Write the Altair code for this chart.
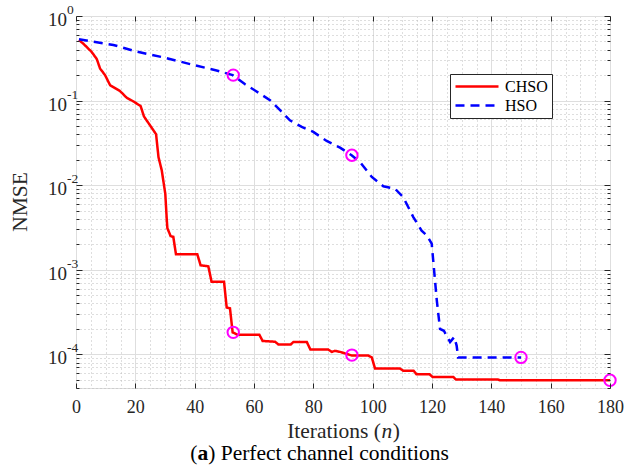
import altair as alt
import pandas as pd

# ---------------- data ----------------
chso_x = [1, 2.5, 5.3, 7, 8.1, 9.8, 11.5, 14.8, 17.1, 19.3, 21.8, 22.9, 27, 27.8, 28.9, 30.1,
          30.6, 30.8, 31.9, 32.8, 33.7, 40.9, 42, 44.6, 45.7, 49.9, 50.8, 51.9, 52.8, 54.4,
          61.8, 62.9, 67.1, 68.2, 72.4, 73.3, 77.8, 79, 85, 86.2, 87.3, 89, 92.9, 98.5,
          99.7, 100.8, 109.2, 110.3, 113.8, 114.8, 119.2, 120.2, 127.2, 128.1, 142.3, 142.9, 180]
chso_y = [0.52, 0.47, 0.375, 0.31, 0.24, 0.20, 0.152, 0.13, 0.108, 0.098, 0.086, 0.065, 0.040,
          0.0215, 0.015, 0.0079, 0.0039, 0.0031, 0.0025, 0.00245, 0.00152, 0.00152, 0.00113,
          0.0011, 0.00072, 0.00072, 0.000357, 0.00035, 0.000182, 0.000171, 0.000171, 0.000144,
          0.000141, 0.000131, 0.000131, 0.00014, 0.00014, 0.000114, 0.000114, 0.000107, 0.00011,
          0.000107, 0.000097, 0.000097, 0.000092, 0.000068, 0.000068, 0.000064, 0.000064,
          0.000058, 0.000058, 0.000054, 0.000054, 0.0000503, 0.0000503, 0.0000494, 0.0000493]

hso_x = [1, 12.6, 20.4, 30.5, 39.5, 47.4, 52.8, 57, 61.5, 65.4, 68.8, 72.1, 76.1, 80, 84.5, 89,
         92.9, 95.7, 99.7, 103.6, 107.5, 110.3, 113.7, 116.5, 118.2, 119.9, 120.4, 121.6, 122.7,
         124, 126.1, 127.5, 128.3, 128.8, 150]
hso_y = [0.53, 0.455, 0.38, 0.318, 0.264, 0.227, 0.20, 0.156, 0.124, 0.101, 0.077, 0.0585,
         0.0488, 0.0426, 0.0333, 0.0278, 0.0226, 0.0188, 0.0125, 0.0097, 0.0091, 0.0072, 0.0042,
         0.0029, 0.00256, 0.00204, 0.0013, 0.00044, 0.0002, 0.00019, 0.00014, 0.00016, 0.000127,
         0.000092, 0.000092]

marker_x = [53, 93, 150, 53, 93, 180]
marker_y = [0.20, 0.0226, 0.000092, 0.000182, 0.000098, 0.0000493]

series_names = ["CHSO", "HSO"]
x_ticks = [0, 20, 40, 60, 80, 100, 120, 140, 160, 180]
x_minor = [v for v in range(0, 181, 5) if v % 20 != 0]
decades = [1, 0.1, 0.01, 0.001, 0.0001]
decade_exp = ["0", "-1", "-2", "-3", "-4"]
y_minor = [m * 10.0 ** e for e in range(-5, 0) for m in range(2, 10) if 4e-5 <= m * 10.0 ** e < 1]

# ---------------- tables ----------------
line_df = pd.concat([
    pd.DataFrame({"x": chso_x, "y": chso_y, "series": "CHSO", "order": range(len(chso_x))}),
    pd.DataFrame({"x": hso_x, "y": hso_y, "series": "HSO", "order": range(len(hso_x))}),
])
mk_df = pd.DataFrame({"x": marker_x, "y": marker_y})
ylab_df = pd.DataFrame({"y": decades, "exp": decade_exp})
one = pd.DataFrame({"k": [0]})

FONT = "Liberation Serif"
TXT = "#262626"
W, H = 534, 372
xs = alt.Scale(domain=[0, 180], nice=False, zero=False)
ys = alt.Scale(type="log", domain=[4e-5, 1], nice=False)

def blank_axis(**kw):
    base = dict(labels=False, ticks=False, domain=False, grid=False, title=None)
    base.update(kw)
    return alt.Axis(**base)

legend = alt.Legend(title=None, orient="none", legendX=374, legendY=58,
                    symbolType="stroke", symbolSize=1850, symbolStrokeWidth=2.5,
                    labelFont=FONT, labelFontSize=16, labelColor="black",
                    strokeColor="#262626", fillColor="white", padding=4,
                    clipHeight=17, rowPadding=2, labelOffset=5, symbolOffset=0)

lines = alt.Chart(line_df).mark_line(strokeWidth=2.5, clip=True).encode(
    x=alt.X("x:Q", scale=xs, axis=blank_axis(orient="bottom", values=x_minor, grid=True, gridDash=[1, 3],
                                             gridColor="#bdbdbd", gridWidth=1)),
    y=alt.Y("y:Q", scale=ys, axis=blank_axis(orient="left", values=y_minor, grid=True, gridDash=[1, 3],
                                             gridColor="#bdbdbd", gridWidth=1)),
    color=alt.Color("series:N", scale=alt.Scale(domain=series_names, range=["#ff0000", "#0000ff"]),
                    legend=legend),
    strokeDash=alt.StrokeDash("series:N", scale=alt.Scale(domain=series_names, range=[[1, 0], [9, 6]]),
                              legend=legend),
    order="order:Q",
)

markers = alt.Chart(mk_df).mark_point(shape="circle", filled=False, color="#ff00ff", size=130,
                                      strokeWidth=2, opacity=1).encode(
    x=alt.X("x:Q", scale=xs, axis=alt.Axis(orient="bottom", values=x_ticks, grid=True, gridColor="#dedede",
                                           gridWidth=1, labels=True, ticks=False, tickSize=0, domain=False,
                                           title=None, labelFont=FONT, labelFontSize=18, labelColor=TXT,
                                           labelBaseline="middle", labelPadding=19, labelFlush=False,
                                           labelOverlap=False)),
    y=alt.Y("y:Q", scale=ys, axis=blank_axis(orient="left", values=decades, grid=True, gridColor="#dedede",
                                             gridWidth=1)),
)

def tick_layer(xaxis, yaxis):
    return alt.Chart(mk_df).mark_point(opacity=0).encode(
        x=alt.X("x:Q", scale=xs, axis=xaxis),
        y=alt.Y("y:Q", scale=ys, axis=yaxis),
    )

tk = dict(labels=False, domain=False, grid=False, title=None, ticks=True, tickColor=TXT, tickWidth=1, zindex=2)
t1 = tick_layer(alt.Axis(orient="bottom", values=x_ticks, tickSize=5, offset=-5, **tk),
                alt.Axis(orient="left", values=decades, tickSize=6, offset=-6, **tk))
t2 = tick_layer(alt.Axis(orient="top", values=x_ticks, tickSize=5, offset=-5, **tk),
                alt.Axis(orient="right", values=decades, tickSize=6, offset=-6, **tk))
t3 = tick_layer(None, alt.Axis(orient="left", values=y_minor, tickSize=3, offset=-3, **tk))
t4 = tick_layer(None, alt.Axis(orient="right", values=y_minor, tickSize=3, offset=-3, **tk))

ten = alt.Chart(ylab_df).mark_text(text="10", align="right", baseline="middle", font=FONT,
                                   fontSize=19, color=TXT, dy=4).encode(
    x=alt.value(-9), y=alt.Y("y:Q", scale=ys, axis=None))
expo = alt.Chart(ylab_df).mark_text(align="left", baseline="middle", font=FONT,
                                    fontSize=13.5, color=TXT, dy=-6).encode(
    x=alt.value(-9), y=alt.Y("y:Q", scale=ys, axis=None), text="exp:N")

def txt(s, x, y, size, **kw):
    return alt.Chart(one).mark_text(text=s, align="left", baseline="middle", font=FONT,
                                    fontSize=size, color=kw.pop("color", TXT), **kw).encode(
        x=alt.value(x), y=alt.value(y))

# x-axis title "Iterations (n)" with italic n
FT = 21.5
w1, w2, w3 = 4.36 * FT, 0.5 * FT, 0.333 * FT
x0 = W / 2 - (w1 + w2 + w3) / 2
xt = [txt("Iterations (", x0, 416, FT), txt("n", x0 + w1 + 0.5, 416, FT, fontStyle="italic"),
      txt(")", x0 + w1 + w2 + 1, 416, FT)]

# y title
ytitle = alt.Chart(one).mark_text(text="NMSE", angle=270, align="center", baseline="middle",
                                  font=FONT, fontSize=FT, color=TXT).encode(
    x=alt.value(-55), y=alt.value(H / 2))

# caption "(a) Perfect channel conditions"
FC = 21.5
c1, c2, c3 = 0.333 * FC, 0.5 * FC, 11.19 * FC
cx0 = (639 / 2 - 76) - (c1 + c2 + c3) / 2
cap = [txt("(", cx0, 438, FC, color="black"),
       txt("a", cx0 + c1, 438, FC, color="black", fontWeight="bold"),
       txt(") Perfect channel conditions", cx0 + c1 + c2, 438, FC, color="black")]

chart = alt.layer(lines, markers, t1, t2, t3, t4, ten, expo, ytitle, *xt, *cap).resolve_scale(
    x="shared", y="shared").resolve_axis(x="independent", y="independent").properties(
    width=W, height=H,
    autosize=alt.AutoSizeParams(type="none"),
    padding={"left": 76, "top": 16, "right": 29, "bottom": 78},
).configure_view(stroke=TXT, strokeWidth=1).configure(background="white")

chart.save("out.html", embed_options={"renderer": "svg", "actions": False})
